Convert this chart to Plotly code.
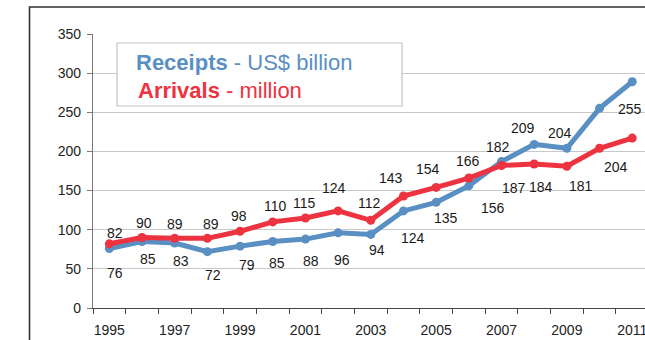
import plotly.graph_objects as go

# Yearly series
years = list(range(1995, 2012))
receipts = [76, 85, 83, 72, 79, 85, 88, 96, 94, 124, 135, 156, 187, 209, 204, 255, 289]
arrivals = [82, 90, 89, 89, 98, 110, 115, 124, 112, 143, 154, 166, 182, 184, 181, 204, 217]
year_ticks = list(range(1995, 2012, 2))
y_ticks = [0, 50, 100, 150, 200, 250, 300, 350]

# Value labels are shown for 1995-2010; offsets (px) from each point
receipts_dx = [6, 6, 6, 6, 7, 4, 6, 4, 6, 10, 10, 24, 12, -11, -7, 30]
receipts_dy = [24, 18, 18, 23, 19, 22, 22, 27, 16, 27, 16, 22, 26, -16, -15, 1]
arrivals_dx = [6, 2, 0, 4, -1, 3, -1, -4, -1, -12, -8, -1, -4, 7, 14, 16]
arrivals_dy = [-11, -15, -14, -14, -15, -16, -15, -23, -17, -18, -18, -17, -19, 23, 20, 19]

BLUE = "#5a8fc4"
RED = "#ee3340"
FONT = "Liberation Sans, Arial, sans-serif"

W, H = 645, 340
L, R, T, B = 93, 0, 34, 32
px_per_year = 32.68
plot_w = W - L - R
plot_h = H - T - B
x_lo = 1994.5
x_hi = x_lo + plot_w / px_per_year


def paper_x(px):
    return (px - L) / plot_w


def paper_y(py):
    return (H - B - py) / plot_h


fig = go.Figure()
fig.add_trace(go.Scatter(
    x=years, y=receipts, mode="lines+markers",
    line=dict(color=BLUE, width=5), marker=dict(color=BLUE, size=9),
    name="Receipts", showlegend=False, cliponaxis=False,
))
fig.add_trace(go.Scatter(
    x=years, y=arrivals, mode="lines+markers",
    line=dict(color=RED, width=5), marker=dict(color=RED, size=9),
    name="Arrivals", showlegend=False, cliponaxis=False,
))

annotations = []
for series, dxs, dys in ((receipts, receipts_dx, receipts_dy),
                         (arrivals, arrivals_dx, arrivals_dy)):
    for i, (dx, dy) in enumerate(zip(dxs, dys)):
        annotations.append(dict(
            x=years[i], y=series[i], text=str(series[i]), showarrow=False,
            xshift=dx, yshift=-dy, xanchor="center", yanchor="middle",
            font=dict(family=FONT, size=14, color="#1a1a1a"),
        ))

# Legend box text
annotations.append(dict(
    xref="paper", yref="paper", x=paper_x(134), y=paper_y(62),
    xanchor="left", yanchor="middle", showarrow=False,
    text="<b>Receipts</b> - US$ billion",
    font=dict(family=FONT, size=22, color=BLUE),
))
annotations.append(dict(
    xref="paper", yref="paper", x=paper_x(136), y=paper_y(90),
    xanchor="left", yanchor="middle", showarrow=False,
    text="<b>Arrivals</b> - million",
    font=dict(family=FONT, size=22, color=RED),
))

shapes = [
    # legend box
    dict(type="rect", xref="paper", yref="paper", layer="above",
         x0=paper_x(117), x1=paper_x(402), y0=paper_y(106), y1=paper_y(43),
         line=dict(color="#c4c4c4", width=1.2), fillcolor="white"),
    # outer frame
    dict(type="path", xref="paper", yref="paper", layer="above",
         path=f"M {paper_x(29.5)} {paper_y(360)} L {paper_x(29.5)} {paper_y(7)} L {paper_x(700)} {paper_y(7)}",
         line=dict(color="#333333", width=1.6)),
]

fig.update_layout(
    width=W, height=H,
    margin=dict(l=L, r=R, t=T, b=B, pad=0),
    paper_bgcolor="white", plot_bgcolor="white",
    font=dict(family=FONT, size=14, color="#222222"),
    annotations=annotations, shapes=shapes,
    showlegend=False,
    xaxis=dict(
        range=[x_lo, x_hi], tickmode="array", tickvals=year_ticks,
        ticks="", showgrid=False, zeroline=False, automargin=False,
        showline=True, linecolor="#444444", linewidth=1.3,
        tickfont=dict(family=FONT, size=14, color="#222222"),
        ticklabeloverflow="allow", ticklabelstandoff=9,
        minor=dict(tickmode="linear", tick0=1994.5, dtick=1, ticks="outside",
                   ticklen=5, tickwidth=1.2, tickcolor="#444444", showgrid=False),
    ),
    yaxis=dict(
        range=[0, 350], tickmode="array", tickvals=y_ticks,
        ticks="outside", ticklen=5, tickwidth=1.2, tickcolor="#777777",
        showgrid=True, gridcolor="#c8c8c8", gridwidth=1.2,
        zeroline=False, automargin=False,
        showline=True, linecolor="#777777", linewidth=1.3,
        tickfont=dict(family=FONT, size=14, color="#222222"),
        ticklabelstandoff=3,
    ),
)

fig.write_html("out.html")
